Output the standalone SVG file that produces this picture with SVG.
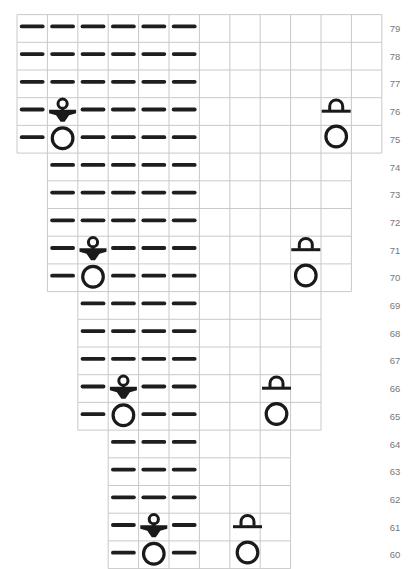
<svg xmlns="http://www.w3.org/2000/svg" xmlns:xlink="http://www.w3.org/1999/xlink" width="409" height="569" viewBox="0 0 409 569">
<style>
.grid{fill:none;stroke:#c9c9c9;stroke-width:1}
.dash{stroke:#1e1e1e;stroke-width:3.8;stroke-linecap:round}
.ring{fill:none;stroke:#1a1a1a;stroke-width:3.2}
.sym{fill:none;stroke:#1a1a1a;stroke-width:3}
.lbl{font-family:"Liberation Sans",Arial,sans-serif;font-size:9.5px;fill:#777;text-anchor:middle}
</style>
<defs>
<line id="d" class="dash" x1="-10.5" y1="0" x2="10.5" y2="0"/>
<g id="lt">
<circle class="sym" cx="0" cy="6" r="4.6" stroke-width="2.8"/>
<path class="sym" d="M0,10.5V13"/>
<polygon fill="#1a1a1a" points="-13.5,12 13.5,12 13.5,15.5 6.5,17.5 2,24 -2,24 -6.5,17.5 -13.5,15.5"/>
</g>
<g id="rt">
<path class="sym" d="M-6.5,12.5V8.5A6.5,6.3 0 0 1 6.5,8.5V12.5"/>
<path class="sym" d="M-14.5,13.5H14.5" stroke-width="3.4"/>
</g>
<circle id="o" class="ring" cx="0" cy="0" r="10.3"/>
</defs>
<rect width="409" height="569" fill="#fff"/>
<g id="grid">
<path class="grid" d="M17,14.6H381.8M17,42.3H381.8M17,70H381.8M17,97.7H381.8M17,125.4H381.8M17,153.1H381.8
M17,14.6V153.1M47.4,14.6V153.1M77.8,14.6V153.1M108.2,14.6V153.1M138.6,14.6V153.1M169,14.6V153.1M199.4,14.6V153.1M229.8,14.6V153.1M260.2,14.6V153.1M290.6,14.6V153.1M321,14.6V153.1M351.4,14.6V153.1M381.8,14.6V153.1"/>
<path class="grid" d="M47.4,180.8H351.4M47.4,208.5H351.4M47.4,236.2H351.4M47.4,263.9H351.4M47.4,291.6H351.4
M47.4,153.1V291.6M77.8,153.1V291.6M108.2,153.1V291.6M138.6,153.1V291.6M169,153.1V291.6M199.4,153.1V291.6M229.8,153.1V291.6M260.2,153.1V291.6M290.6,153.1V291.6M321,153.1V291.6M351.4,153.1V291.6"/>
<path class="grid" d="M77.8,319.3H321M77.8,347H321M77.8,374.7H321M77.8,402.4H321M77.8,430.1H321
M77.8,291.6V430.1M108.2,291.6V430.1M138.6,291.6V430.1M169,291.6V430.1M199.4,291.6V430.1M229.8,291.6V430.1M260.2,291.6V430.1M290.6,291.6V430.1M321,291.6V430.1"/>
<path class="grid" d="M108.2,457.8H290.6M108.2,485.5H290.6M108.2,513.2H290.6M108.2,540.9H290.6M108.2,568.6H290.6
M108.2,430.1V568.6M138.6,430.1V568.6M169,430.1V568.6M199.4,430.1V568.6M229.8,430.1V568.6M260.2,430.1V568.6M290.6,430.1V568.6"/>
</g>
<g id="block1">
<use href="#d" x="32.2" y="26.4"/><use href="#d" x="62.6" y="26.4"/><use href="#d" x="93" y="26.4"/><use href="#d" x="123.4" y="26.4"/><use href="#d" x="153.8" y="26.4"/><use href="#d" x="184.2" y="26.4"/>
<use href="#d" x="32.2" y="54.1"/><use href="#d" x="62.6" y="54.1"/><use href="#d" x="93" y="54.1"/><use href="#d" x="123.4" y="54.1"/><use href="#d" x="153.8" y="54.1"/><use href="#d" x="184.2" y="54.1"/>
<use href="#d" x="32.2" y="81.8"/><use href="#d" x="62.6" y="81.8"/><use href="#d" x="93" y="81.8"/><use href="#d" x="123.4" y="81.8"/><use href="#d" x="153.8" y="81.8"/><use href="#d" x="184.2" y="81.8"/>
<use href="#d" x="32.2" y="109.5"/><use href="#d" x="93" y="109.5"/><use href="#d" x="123.4" y="109.5"/><use href="#d" x="153.8" y="109.5"/><use href="#d" x="184.2" y="109.5"/>
<use href="#d" x="32.2" y="137.2"/><use href="#d" x="93" y="137.2"/><use href="#d" x="123.4" y="137.2"/><use href="#d" x="153.8" y="137.2"/><use href="#d" x="184.2" y="137.2"/>
<use href="#lt" x="62.6" y="97.7"/><use href="#o" x="62.6" y="138.25"/>
<use href="#rt" x="336.2" y="97.7"/><use href="#o" x="336.2" y="136.5"/>
</g>
<g id="block2">
<use href="#d" x="62.6" y="164.9"/><use href="#d" x="93" y="164.9"/><use href="#d" x="123.4" y="164.9"/><use href="#d" x="153.8" y="164.9"/><use href="#d" x="184.2" y="164.9"/>
<use href="#d" x="62.6" y="192.6"/><use href="#d" x="93" y="192.6"/><use href="#d" x="123.4" y="192.6"/><use href="#d" x="153.8" y="192.6"/><use href="#d" x="184.2" y="192.6"/>
<use href="#d" x="62.6" y="220.3"/><use href="#d" x="93" y="220.3"/><use href="#d" x="123.4" y="220.3"/><use href="#d" x="153.8" y="220.3"/><use href="#d" x="184.2" y="220.3"/>
<use href="#d" x="62.6" y="248"/><use href="#d" x="123.4" y="248"/><use href="#d" x="153.8" y="248"/><use href="#d" x="184.2" y="248"/>
<use href="#d" x="62.6" y="275.7"/><use href="#d" x="123.4" y="275.7"/><use href="#d" x="153.8" y="275.7"/><use href="#d" x="184.2" y="275.7"/>
<use href="#lt" x="93" y="236.2"/><use href="#o" x="93" y="276.75"/>
<use href="#rt" x="305.8" y="236.2"/><use href="#o" x="305.8" y="275.5"/>
</g>
<g id="block3">
<use href="#d" x="93" y="303.4"/><use href="#d" x="123.4" y="303.4"/><use href="#d" x="153.8" y="303.4"/><use href="#d" x="184.2" y="303.4"/>
<use href="#d" x="93" y="331.1"/><use href="#d" x="123.4" y="331.1"/><use href="#d" x="153.8" y="331.1"/><use href="#d" x="184.2" y="331.1"/>
<use href="#d" x="93" y="358.8"/><use href="#d" x="123.4" y="358.8"/><use href="#d" x="153.8" y="358.8"/><use href="#d" x="184.2" y="358.8"/>
<use href="#d" x="93" y="386.5"/><use href="#d" x="153.8" y="386.5"/><use href="#d" x="184.2" y="386.5"/>
<use href="#d" x="93" y="414.2"/><use href="#d" x="153.8" y="414.2"/><use href="#d" x="184.2" y="414.2"/>
<use href="#lt" x="123.4" y="374.7"/><use href="#o" x="123.4" y="415.25"/>
<use href="#rt" x="276.5" y="374.7"/><use href="#o" x="276.5" y="414"/>
</g>
<g id="block4">
<use href="#d" x="123.4" y="441.9"/><use href="#d" x="153.8" y="441.9"/><use href="#d" x="184.2" y="441.9"/>
<use href="#d" x="123.4" y="469.6"/><use href="#d" x="153.8" y="469.6"/><use href="#d" x="184.2" y="469.6"/>
<use href="#d" x="123.4" y="497.3"/><use href="#d" x="153.8" y="497.3"/><use href="#d" x="184.2" y="497.3"/>
<use href="#d" x="123.4" y="525"/><use href="#d" x="184.2" y="525"/>
<use href="#d" x="123.4" y="552.7"/><use href="#d" x="184.2" y="552.7"/>
<use href="#lt" x="153.8" y="513.2"/><use href="#o" x="153.8" y="553.75"/>
<use href="#rt" x="247.5" y="513.2"/><use href="#o" x="247.5" y="552.5"/>
</g>
<g id="labels">
<text class="lbl" x="395" y="32">79</text>
<text class="lbl" x="395" y="59.7">78</text>
<text class="lbl" x="395" y="87.4">77</text>
<text class="lbl" x="395" y="115.1">76</text>
<text class="lbl" x="395" y="142.8">75</text>
<text class="lbl" x="395" y="170.5">74</text>
<text class="lbl" x="395" y="198.2">73</text>
<text class="lbl" x="395" y="225.9">72</text>
<text class="lbl" x="395" y="253.6">71</text>
<text class="lbl" x="395" y="281.3">70</text>
<text class="lbl" x="395" y="309">69</text>
<text class="lbl" x="395" y="336.7">68</text>
<text class="lbl" x="395" y="364.4">67</text>
<text class="lbl" x="395" y="392.1">66</text>
<text class="lbl" x="395" y="419.8">65</text>
<text class="lbl" x="395" y="447.5">64</text>
<text class="lbl" x="395" y="475.2">63</text>
<text class="lbl" x="395" y="502.9">62</text>
<text class="lbl" x="395" y="530.6">61</text>
<text class="lbl" x="395" y="558.3">60</text>
</g>
</svg>
